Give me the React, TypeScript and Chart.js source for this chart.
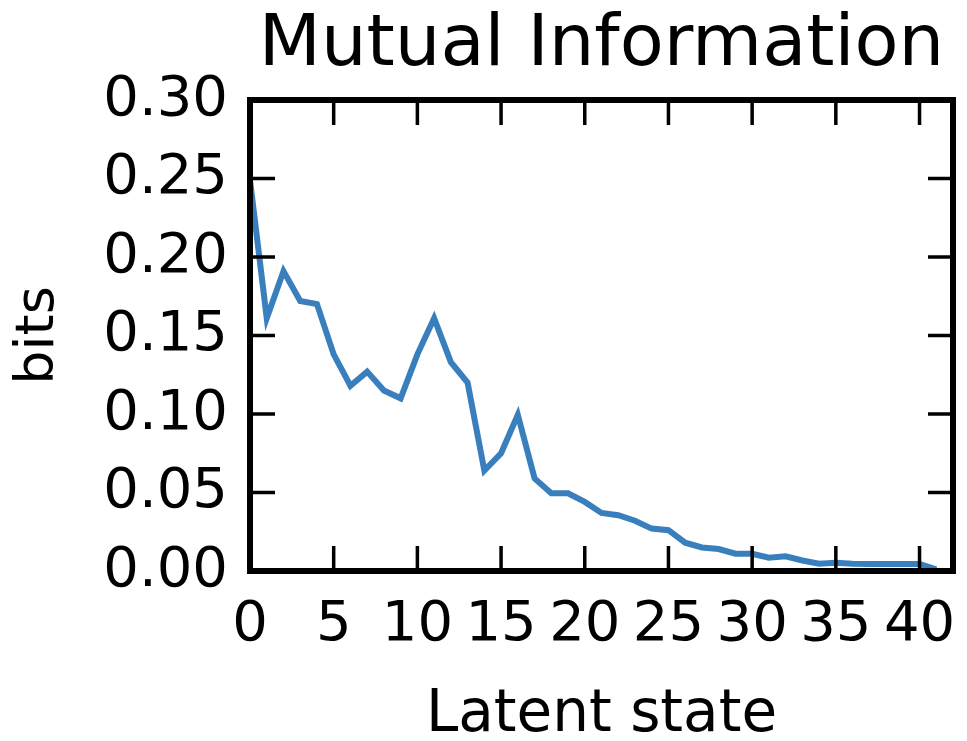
import React, { useEffect, useRef } from "react";
import { Chart, registerables } from "chart.js";

Chart.register(...registerables);

const latentStates: number[] = [
  0, 1, 2, 3, 4, 5, 6, 7, 8, 9, 10, 11, 12, 13, 14, 15, 16, 17, 18, 19, 20,
  21, 22, 23, 24, 25, 26, 27, 28, 29, 30, 31, 32, 33, 34, 35, 36, 37, 38, 39, 40, 41,
];
const mutualInfoBits: number[] = [
  0.249, 0.161, 0.191, 0.172, 0.17, 0.138, 0.118, 0.127, 0.115, 0.11, 0.138,
  0.161, 0.133, 0.12, 0.064, 0.075, 0.0995, 0.059, 0.0495, 0.0495, 0.044,
  0.037, 0.0355, 0.032, 0.027, 0.026, 0.018, 0.015, 0.014, 0.011, 0.011,
  0.0085, 0.0094, 0.0067, 0.0046, 0.0052, 0.0046, 0.0045, 0.0045, 0.0045,
  0.0045, 0.001,
];
const xTickValues: number[] = [0, 5, 10, 15, 20, 25, 30, 35, 40];
const yTickValues: number[] = [0, 0.05, 0.1, 0.15, 0.2, 0.25, 0.3];

const FONT = "'DejaVu Sans', sans-serif";

const framePlugin = {
  id: "frameTicks",
  afterDraw(chart: any) {
    const { ctx, chartArea } = chart;
    const { left, right, top, bottom } = chartArea;
    const xs = chart.scales.x;
    const ys = chart.scales.y;
    const len = 25;
    ctx.save();
    ctx.strokeStyle = "#000";
    ctx.lineWidth = 3.5;
    ctx.beginPath();
    for (const v of xTickValues) {
      const px = xs.getPixelForValue(v);
      ctx.moveTo(px, bottom);
      ctx.lineTo(px, bottom - len);
      ctx.moveTo(px, top);
      ctx.lineTo(px, top + len);
    }
    for (const v of yTickValues) {
      const py = ys.getPixelForValue(v);
      ctx.moveTo(left, py);
      ctx.lineTo(left + len, py);
      ctx.moveTo(right, py);
      ctx.lineTo(right - len, py);
    }
    ctx.stroke();
    ctx.lineWidth = 6;
    ctx.strokeRect(left, top, right - left, bottom - top);
    ctx.restore();
  },
};

export default function App() {
  const canvasRef = useRef<HTMLCanvasElement | null>(null);

  useEffect(() => {
    document.body.style.margin = "0";
    document.body.style.overflow = "hidden";
    const canvas = canvasRef.current;
    if (!canvas) return;
    const chart = new Chart(canvas, {
      type: "line",
      data: {
        labels: latentStates,
        datasets: [
          {
            data: latentStates.map((x, i) => ({ x, y: mutualInfoBits[i] })),
            borderColor: "#3a7fbd",
            borderWidth: 6,
            pointRadius: 0,
            fill: false,
            tension: 0,
          },
        ],
      },
      options: {
        responsive: false,
        animation: false,
        devicePixelRatio: 1,
        layout: { padding: { left: 0, right: 14, top: 0, bottom: 0 } },
        plugins: {
          legend: { display: false },
          tooltip: { enabled: false },
          title: {
            display: true,
            text: "Mutual Information",
            fullSize: false,
            color: "#000",
            font: { family: FONT, size: 72, weight: "normal", lineHeight: 1 },
            padding: { top: 10, bottom: 18 },
          },
        },
        scales: {
          x: {
            type: "linear",
            min: 0,
            max: 42,
            grid: { display: false, drawTicks: false },
            border: { display: false },
            ticks: {
              stepSize: 5,
              includeBounds: false,
              color: "#000",
              font: { family: FONT, size: 56 },
              padding: 21,
              maxRotation: 0,
              autoSkip: false,
              callback: (v: any) => String(v),
            },
            title: {
              display: true,
              text: "Latent state",
              color: "#000",
              font: { family: FONT, size: 58, lineHeight: 0.8 },
              padding: { top: 0, bottom: 2 },
            },
            afterFit: (scale: any) => {
              scale.height = 170;
              scale.paddingLeft = 0;
              scale.paddingRight = 0;
            },
          },
          y: {
            type: "linear",
            min: 0,
            max: 0.3,
            grid: { display: false, drawTicks: false },
            border: { display: false },
            ticks: {
              stepSize: 0.05,
              color: "#000",
              font: { family: FONT, size: 56 },
              padding: 22,
              callback: (v: any) => Number(v).toFixed(2),
            },
            title: {
              display: true,
              text: "bits",
              color: "#000",
              font: { family: FONT, size: 54, lineHeight: 1 },
              padding: { top: 12, bottom: 0 },
            },
            afterFit: (scale: any) => {
              scale.width = 250;
              scale.paddingTop = 0;
              scale.paddingBottom = 0;
            },
          },
        },
      },
      plugins: [framePlugin],
    });
    return () => chart.destroy();
  }, []);

  return (
    <div style={{ width: 967, height: 741, background: "#fff" }}>
      <canvas ref={canvasRef} width={967} height={741} style={{ display: "block" }} />
    </div>
  );
}
